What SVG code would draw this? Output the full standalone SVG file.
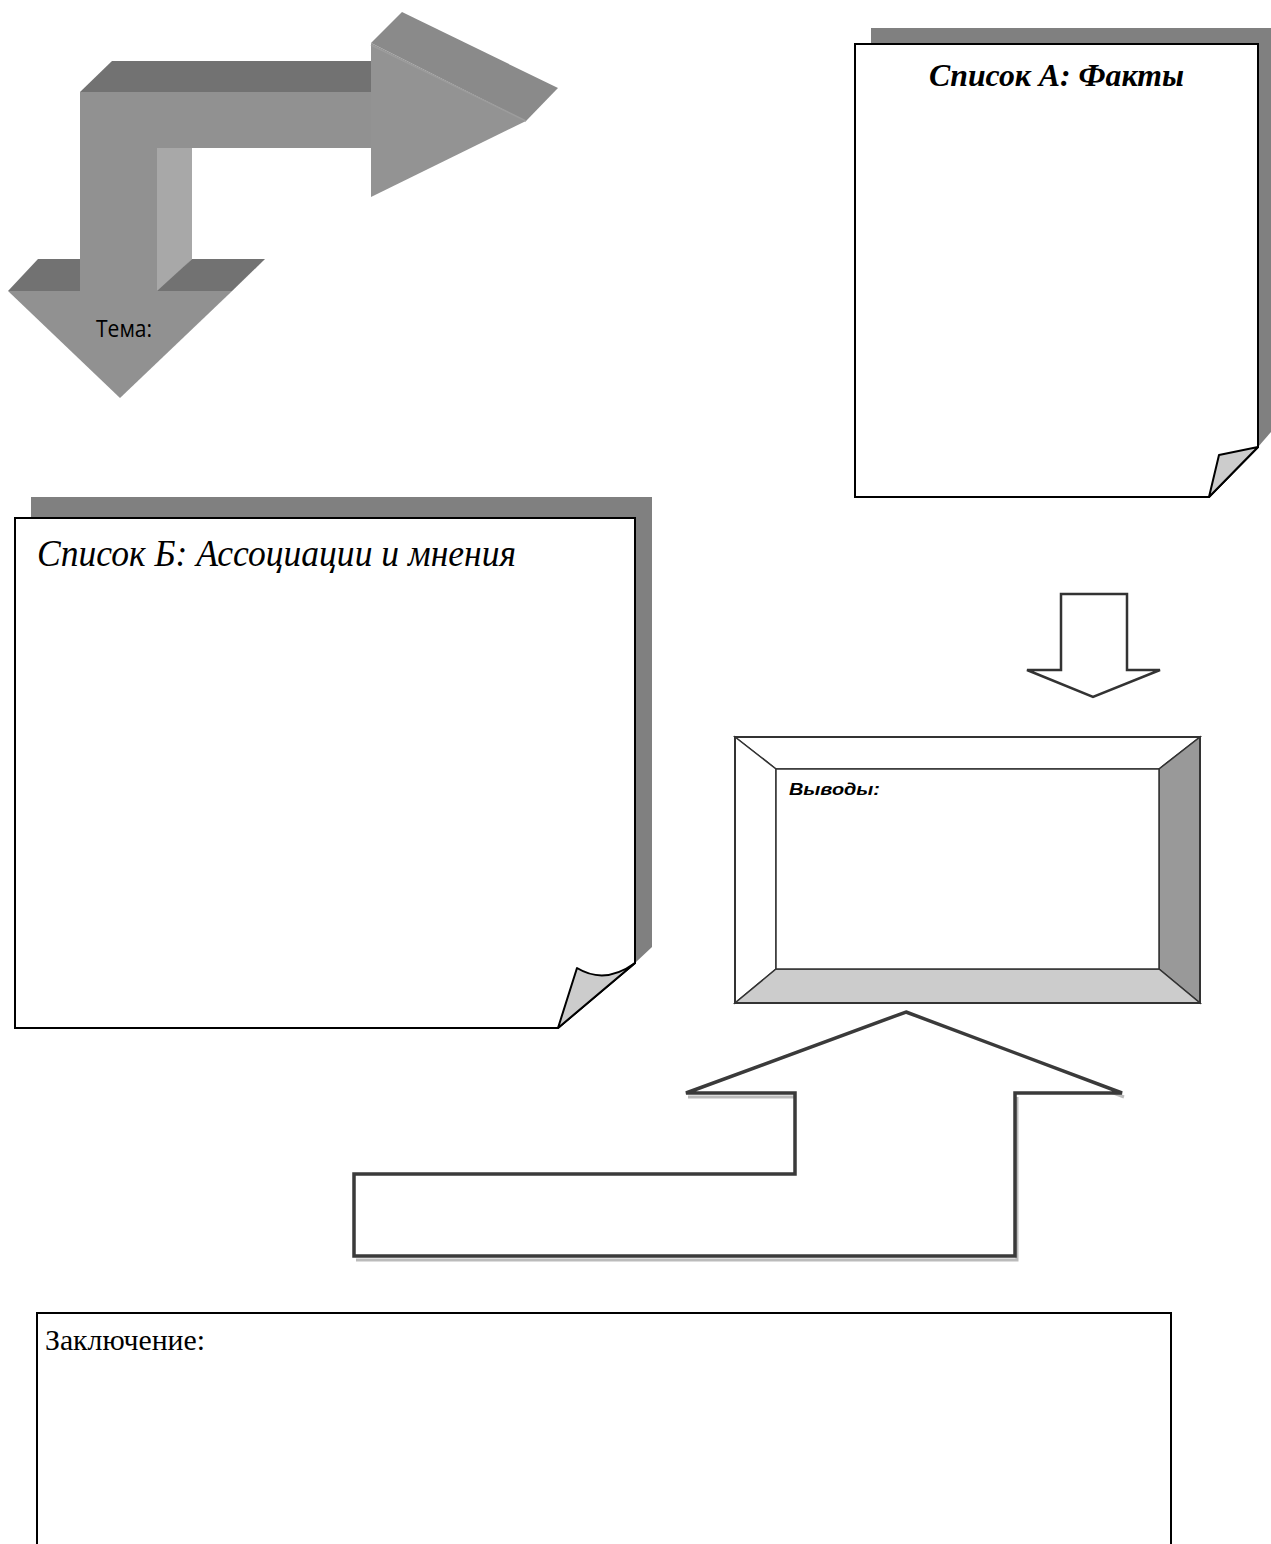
<svg xmlns="http://www.w3.org/2000/svg" width="1271" height="1544" viewBox="0 0 1271 1544">
<style>
.doc{fill:#ffffff;stroke:#000000;stroke-width:2;stroke-linejoin:miter}
.flap{fill:#cccccc;stroke:#000000;stroke-width:2;stroke-linejoin:round}
.shadow{fill:#808080}
.top{fill:#727272}
.front{fill:#919191}
.frame{stroke:#333333;stroke-width:1.5;stroke-linejoin:miter}
.blk{fill:#ffffff;stroke:#3a3a3a;stroke-width:3.5;stroke-linejoin:miter}
.blksh{fill:none;stroke:#bbbbbb;stroke-width:3;stroke-linejoin:miter}
</style>
<rect width="1271" height="1544" fill="#ffffff"/>

<g id="connectors">
  <g id="arrow-3d">
    <polygon class="top" points="80,92 112,61 371,61 371,92"/>
    <path class="front" d="M80,92 H371 V148 H157 V292 H80 Z"/>
    <polygon fill="#a8a8a8" points="157,148 192,148 192,259 157,293"/>
    <polygon fill="#8a8a8a" points="371,43 402,12 558,88 526,121"/>
    <polygon fill="#939393" points="371,43 526,121 371,197"/>
    <line x1="371" y1="45" x2="526" y2="121" stroke="#9c9c9c" stroke-width="1.5"/>
    <polygon class="top" points="8,291 38,259 80,259 80,291"/>
    <polygon class="top" points="157,291 192,259 265,259 232,291"/>
    <polygon fill="#8c8c8c" points="232,291 265,259 120,398"/>
    <polygon class="front" points="8,291 232,291 120,398"/>
  </g>
  <g id="arrow-down">
    <path d="M1061,594 H1127 V670 H1160 L1093,697 L1027,670 H1061 Z" fill="#ffffff" stroke="#333333" stroke-width="2.5" stroke-linejoin="miter"/>
  </g>
  <g id="arrow-up">
    <path class="blksh" d="M908,1016 L1124,1097 M1017,1097 V1260 H356 M797,1097 V1178 H357 M688,1097 H797"/>
    <path class="blk" d="M906,1012 L1122,1093 H1015 V1256 H354 V1174 H795 V1093 H686 Z"/>
  </g>
</g>

<g id="tema">
  <text x="96" y="337" font-family="Open Sans, Noto Sans, sans-serif" font-size="24" fill="#000000" textLength="56" lengthAdjust="spacingAndGlyphs">Тема:</text>
</g>

<g id="list-a">
  <path class="shadow" d="M871,28 H1271 V432 L1258,447 H871 Z"/>
  <path class="doc" d="M855,44 H1258 V447 L1209,497 H855 Z"/>
  <path class="flap" d="M1258,447 L1219,455 L1209,497 Z"/>
  <text x="929" y="86" font-family="Liberation Serif, serif" font-weight="bold" font-style="italic" font-size="32" textLength="255" lengthAdjust="spacingAndGlyphs">Список А: Факты</text>
</g>

<g id="list-b">
  <path class="shadow" d="M31,497 H652 V947 L635,963 H31 Z"/>
  <path class="doc" d="M15,518 H635 V963 L558,1028 H15 Z"/>
  <path class="flap" d="M635,963 Q605,985 577,968 L558,1028 Z"/>
  <text x="37" y="566" font-family="Liberation Serif, serif" font-style="italic" font-size="37" textLength="479" lengthAdjust="spacingAndGlyphs">Список Б: Ассоциации и мнения</text>
</g>

<g id="vyvody">
  <polygon class="frame" fill="#ffffff" points="735,737 1200,737 1159,769 776,769"/>
  <polygon class="frame" fill="#ffffff" points="735,737 776,769 776,969 735,1003"/>
  <polygon class="frame" fill="#999999" points="1200,737 1200,1003 1159,969 1159,769"/>
  <polygon class="frame" fill="#cccccc" points="735,1003 1200,1003 1159,969 776,969"/>
  <rect class="frame" x="776" y="769" width="383" height="200" fill="#ffffff"/>
  <rect x="735" y="737" width="465" height="266" fill="none" stroke="#333333" stroke-width="2"/>
  <text x="789" y="795" font-family="Liberation Sans, Arial, sans-serif" font-weight="bold" font-style="italic" font-size="17" textLength="91" lengthAdjust="spacingAndGlyphs">Выводы:</text>
</g>

<g id="zaklyuchenie">
  <rect x="37" y="1313" width="1134" height="260" fill="#ffffff" stroke="#000000" stroke-width="2"/>
  <text x="45" y="1350" font-family="Liberation Serif, serif" font-size="30" textLength="160" lengthAdjust="spacingAndGlyphs">Заключение:</text>
</g>
</svg>
